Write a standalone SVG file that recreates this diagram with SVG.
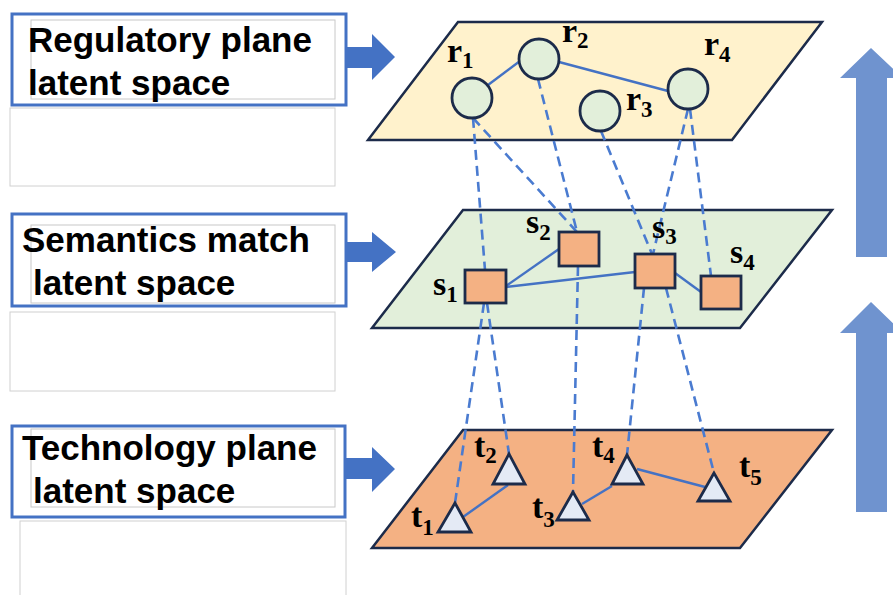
<svg xmlns="http://www.w3.org/2000/svg" width="893" height="595" viewBox="0 0 893 595">
<style>
.lbl{font-family:"Liberation Sans",Arial,sans-serif;font-weight:bold;font-size:35px;fill:#000}
.frame{fill:#fff;stroke:#4472C4;stroke-width:3}
.inner{fill:none;stroke:#C8C8C8;stroke-width:1}
.empty{fill:#fff;stroke:#D0D0D0;stroke-width:1}
.arrow{fill:#4472C4}
.up{fill:#6F93CF}
.plane{stroke:#1C2B4A;stroke-width:2.5;stroke-linejoin:miter}
.node{stroke:#1C2B4A;stroke-width:2.8}
.circ{fill:#E2EFDA}
.sq{fill:#F4B183}
.tri{fill:#E4EAF5;stroke-linejoin:miter}
.edge{stroke:#4472C4;stroke-width:2.4;fill:none}
.dash{stroke:#4A7BD0;stroke-width:2.6;fill:none;stroke-dasharray:10 6}
.sym{font-family:"Liberation Serif","Times New Roman",serif;font-weight:bold;font-size:34px;fill:#000}
.sub{font-size:23px}
</style>

<g id="label-regulatory">
<rect class="empty" x="10" y="108" width="325" height="78"/>
<rect class="frame" x="12" y="14" width="334" height="91"/>
<rect class="inner" x="31" y="20" width="304" height="79"/>
<text class="lbl" x="28" y="52">Regulatory plane</text>
<text class="lbl" x="28" y="95">latent space</text>
</g>
<g id="label-semantics">
<rect class="empty" x="10" y="312" width="325" height="79"/>
<rect class="frame" x="12" y="214" width="334" height="92"/>
<rect class="inner" x="31" y="225" width="304" height="78"/>
<text class="lbl" x="22" y="252">Semantics match</text>
<text class="lbl" x="33" y="295">latent space</text>
</g>
<g id="label-technology">
<rect class="empty" x="20" y="521" width="326" height="80"/>
<rect class="frame" x="12" y="426" width="333" height="91"/>
<rect class="inner" x="31" y="429" width="304" height="78"/>
<text class="lbl" x="22" y="460">Technology plane</text>
<text class="lbl" x="33" y="503">latent space</text>
</g>

<g id="side-arrows">
<polygon class="arrow" points="346,47 372,47 372,34 395,57 372,80 372,68 346,68"/>
<polygon class="arrow" points="346,242 372,242 372,232 396,252 372,272 372,262 346,262"/>
<polygon class="arrow" points="346,458 372,458 372,447 395,469 372,492 372,479 346,479"/>
<polygon class="up" points="856,257 856,78 840,78 871,48 903,78 887,78 887,257"/>
<polygon class="up" points="856,512 856,333 840,333 871,302 903,333 887,333 887,512"/>
</g>

<g id="plane-regulatory"><polygon class="plane" fill="#FFF2CC" points="458,22 822,22 732,140 368,140"/></g>
<g id="plane-semantics"><polygon class="plane" fill="#E2EFDA" points="463,210 832,210 740,328 372,328"/></g>
<g id="plane-technology"><polygon class="plane" fill="#F4B183" points="463,430 832,430 740,548 372,548"/></g>

<g id="connectors">
<line class="edge" x1="488" y1="85" x2="520" y2="61"/>
<line class="edge" x1="559" y1="62" x2="668" y2="91"/>
<line class="edge" x1="506" y1="286" x2="559" y2="249"/>
<line class="edge" x1="506" y1="287" x2="635" y2="272"/>
<line class="edge" x1="675" y1="273" x2="701" y2="292"/>
<line class="edge" x1="463" y1="517" x2="508" y2="485"/>
<line class="edge" x1="582" y1="504" x2="612" y2="486"/>
<line class="edge" x1="637" y1="469" x2="705" y2="487"/>
<line class="dash" x1="473" y1="118" x2="485" y2="270"/>
<line class="dash" x1="473" y1="118" x2="577" y2="232"/>
<line class="dash" x1="538" y1="79" x2="577" y2="232"/>
<line class="dash" x1="601" y1="131" x2="652" y2="254"/>
<line class="dash" x1="688" y1="109" x2="653" y2="254"/>
<line class="dash" x1="690" y1="109" x2="711" y2="276"/>
<line class="dash" x1="484" y1="303" x2="455" y2="503"/>
<line class="dash" x1="487" y1="303" x2="509" y2="454"/>
<line class="dash" x1="578" y1="266" x2="573" y2="492"/>
<line class="dash" x1="644" y1="288" x2="627" y2="455"/>
<line class="dash" x1="666" y1="288" x2="714" y2="473"/>
</g>

<g id="r1"><circle class="node circ" cx="472" cy="98" r="20"/><text class="sym" x="447" y="62">r<tspan class="sub" dy="6">1</tspan></text></g>
<g id="r2"><circle class="node circ" cx="539" cy="59" r="20"/><text class="sym" x="562" y="42">r<tspan class="sub" dy="6">2</tspan></text></g>
<g id="r3"><circle class="node circ" cx="600" cy="111" r="20"/><text class="sym" x="626" y="110">r<tspan class="sub" dy="7">3</tspan></text></g>
<g id="r4"><circle class="node circ" cx="688" cy="89" r="20"/><text class="sym" x="704" y="55">r<tspan class="sub" dy="7">4</tspan></text></g>

<g id="s1"><rect class="node sq" x="465" y="270" width="41" height="33"/><text class="sym" x="433" y="295">s<tspan class="sub" dy="7">1</tspan></text></g>
<g id="s2"><rect class="node sq" x="559" y="232" width="40" height="34"/><text class="sym" x="526" y="233">s<tspan class="sub" dy="7">2</tspan></text></g>
<g id="s3"><rect class="node sq" x="635" y="254" width="40" height="34"/><text class="sym" x="652" y="238">s<tspan class="sub" dy="6">3</tspan></text></g>
<g id="s4"><rect class="node sq" x="701" y="276" width="40" height="33"/><text class="sym" x="730" y="263">s<tspan class="sub" dy="7">4</tspan></text></g>

<g id="t1"><polygon class="node tri" points="455,503 438,532 471,532"/><text class="sym" x="411" y="527">t<tspan class="sub" dy="8">1</tspan></text></g>
<g id="t2"><polygon class="node tri" points="509,454 493,484 525,484"/><text class="sym" x="474" y="457">t<tspan class="sub" dy="6">2</tspan></text></g>
<g id="t3"><polygon class="node tri" points="573,492 557,520 589,520"/><text class="sym" x="532" y="518">t<tspan class="sub" dy="9">3</tspan></text></g>
<g id="t4"><polygon class="node tri" points="627,455 612,484 643,484"/><text class="sym" x="592" y="457">t<tspan class="sub" dy="6">4</tspan></text></g>
<g id="t5"><polygon class="node tri" points="714,473 698,501 730,501"/><text class="sym" x="739" y="477">t<tspan class="sub" dy="8">5</tspan></text></g>
</svg>
